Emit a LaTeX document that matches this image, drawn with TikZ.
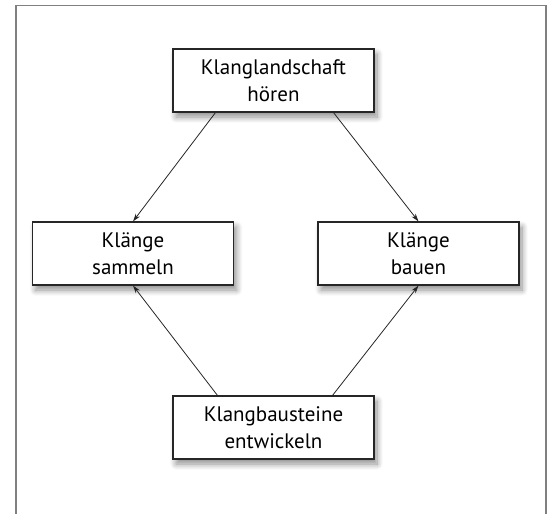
\documentclass[tikz,border=0pt]{standalone}
\usepackage{fontspec}
\setmainfont{PT Sans}
\usetikzlibrary{arrows.meta,shadows.blur}

\begin{document}
\begin{tikzpicture}[x=1pt,y=-1pt,
    box/.style={draw=black!85, line width=1.1pt, fill=white, align=center,
        minimum width=201pt, minimum height=63pt, inner sep=0pt,
        font=\fontsize{21}{27}\selectfont,
        blur shadow={shadow xshift=3pt, shadow yshift=-5pt, shadow blur steps=10, shadow blur radius=6pt, shadow opacity=45}},
    arr/.style={-{Stealth[length=8pt,width=5pt]}, line width=0.8pt, black!85}]
    \useasboundingbox (0,0) rectangle (550,514);
    % frame, open at the bottom
    \draw[gray, line width=1.5pt] (16,514) -- (16,5.5) -- (546,5.5) -- (546,514);

    \node[box] (hoeren) at (273.5,80.5) {Klanglandschaft\\hören};
    \node[box] (sammeln) at (133,253.5) {Klänge\\sammeln};
    \node[box] (bauen) at (418.5,253.5) {Klänge\\bauen};
    \node[box] (entwickeln) at (273.5,427.5) {Klangbausteine\\entwickeln};

    \draw[arr] ([xshift=-58pt]hoeren.south) -- (sammeln.north);
    \draw[arr] ([xshift=60pt]hoeren.south) -- (bauen.north);
    \draw[arr] ([xshift=-56pt]entwickeln.north) -- (sammeln.south);
    \draw[arr] ([xshift=59pt]entwickeln.north) -- (bauen.south);
\end{tikzpicture}
\end{document}
